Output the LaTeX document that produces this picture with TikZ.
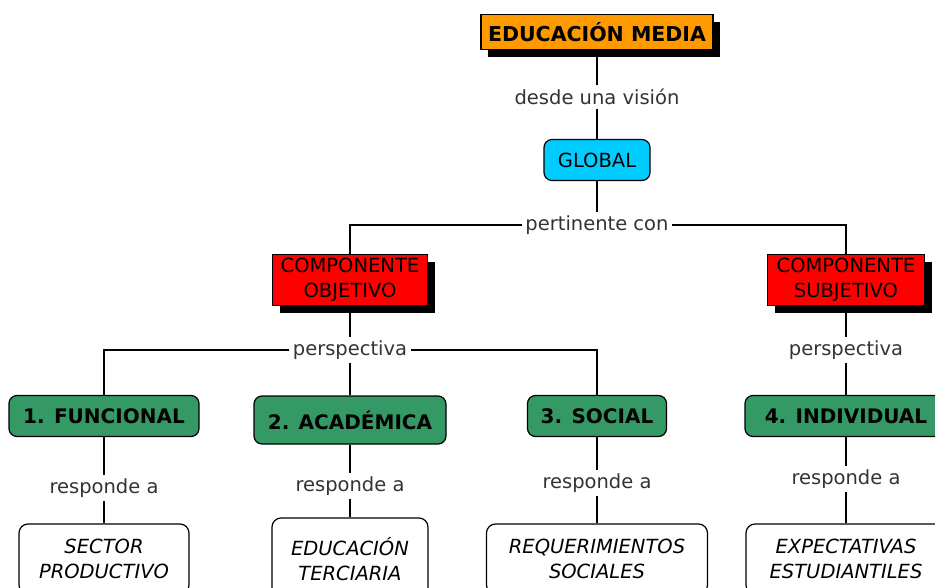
\documentclass[tikz,border=0pt]{standalone}
\usepackage{fontspec}
\setmainfont{DejaVu Sans}
\usetikzlibrary{positioning, shadows}

\definecolor{eduorange}{HTML}{FF9900}
\definecolor{globalcyan}{HTML}{00CCFF}
\definecolor{compred}{HTML}{FF0000}
\definecolor{aspectgreen}{HTML}{359966}

\begin{document}
\begin{tikzpicture}[x=1pt, y=-1pt, on grid, line width=1.2pt,
    font=\fontsize{19.5}{25}\selectfont,
    every node/.style={align=center, inner sep=0pt},
    linklabel/.style={fill=white, inner sep=3pt, text=black!80},
    hardshadow/.style={drop shadow={shadow xshift=7pt, shadow yshift=-7pt, fill=black, opacity=1}},
    headbox/.style={draw, fill=eduorange, hardshadow, minimum width=232pt, minimum height=35pt, font=\fontsize{20.5}{25}\selectfont\bfseries},
    globalbox/.style={draw, fill=globalcyan, rounded corners=8pt, minimum width=106pt, minimum height=41pt},
    compbox/.style={draw, fill=compred, hardshadow, minimum width=155pt, minimum height=51pt},
    aspectbox/.style={draw, fill=aspectgreen, rounded corners=8pt, minimum width=190pt, minimum height=41pt, font=\fontsize{20}{25}\selectfont\bfseries},
    goalbox/.style={draw, fill=white, rounded corners=9pt, minimum height=70pt, font=\fontsize{19.5}{25}\selectfont\itshape}]

    \clip (0,0) rectangle (935,587);

    \node[headbox] (edu) at (597,32) {EDUCACIÓN MEDIA};
    \node[linklabel] (desde) [below=65pt of edu] {desde una visión};
    \node[globalbox] (global) [below=63pt of desde] {GLOBAL};
    \node[linklabel] (pert) [below=65pt of global] {pertinente con};

    \node[compbox] (obj) at (350,280) {COMPONENTE\\OBJETIVO};
    \node[compbox, minimum width=157pt] (subj) at (846,280) {COMPONENTE\\SUBJETIVO};
    \node[linklabel] (persp1) [below=70pt of obj] {perspectiva};
    \node[linklabel] (persp2) [below=70pt of subj] {perspectiva};

    \node[aspectbox] (func) at (104,416) {1. FUNCIONAL};
    \node[aspectbox, minimum width=192pt, minimum height=48pt] (acad) at (350,420) {2. ACADÉMICA};
    \node[aspectbox, minimum width=139pt] (soc) at (597,416) {3. SOCIAL};
    \node[aspectbox, minimum width=202pt] (indiv) at (846,416) {4. INDIVIDUAL};

    \node[linklabel] (resp1) [below=72pt of func] {responde a};
    \node[linklabel] (resp2) [below=66pt of acad] {responde a};
    \node[linklabel] (resp3) [below=67pt of soc] {responde a};
    \node[linklabel] (resp4) [below=63pt of indiv] {responde a};

    \node[goalbox, minimum width=170pt] (sector) [below=71pt of resp1] {SECTOR\\PRODUCTIVO};
    \node[goalbox, minimum width=156pt, minimum height=82pt] (terc) [below=73pt of resp2] {EDUCACIÓN\\TERCIARIA};
    \node[goalbox, minimum width=221pt] (req) [below=76pt of resp3] {REQUERIMIENTOS\\SOCIALES};
    \node[goalbox, minimum width=200pt] (expect) [below=80pt of resp4] {EXPECTATIVAS\\ESTUDIANTILES};

    \draw (edu) -- (desde) -- (global) -- (pert);
    \draw (pert) -| (obj);
    \draw (pert) -| (subj);
    \draw (obj) -- (persp1) -- (acad);
    \draw (persp1) -| (func);
    \draw (persp1) -| (soc);
    \draw (subj) -- (persp2) -- (indiv);
    \draw (func) -- (resp1) -- (sector);
    \draw (acad) -- (resp2) -- (terc);
    \draw (soc) -- (resp3) -- (req);
    \draw (indiv) -- (resp4) -- (expect);
\end{tikzpicture}
\end{document}
